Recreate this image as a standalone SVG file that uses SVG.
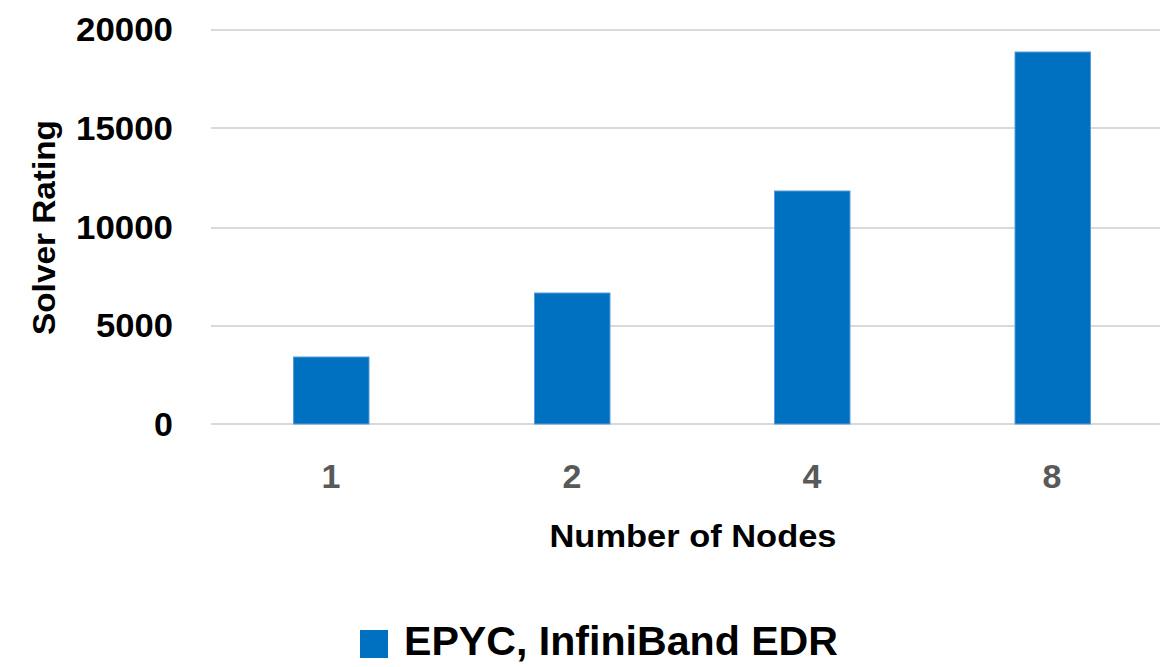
<svg xmlns="http://www.w3.org/2000/svg" width="1163" height="667" viewBox="0 0 1163 667">
<style>
.t{font-family:"Liberation Sans",Arial,sans-serif;font-weight:bold;}
.yl{font-size:34px;fill:#000;text-anchor:end;}
.xl{font-size:34px;fill:#595959;text-anchor:middle;}
.grid{stroke:#D9D9D9;stroke-width:2;}
.bar{fill:#0070C0;stroke:#5B9BD5;stroke-width:1;}
</style>
<rect width="1163" height="667" fill="#fff"/>
<g id="grid">
<line class="grid" x1="211" y1="30" x2="1160" y2="30"/>
<line class="grid" x1="211" y1="128" x2="1160" y2="128"/>
<line class="grid" x1="211" y1="228" x2="1160" y2="228"/>
<line class="grid" x1="211" y1="326" x2="1160" y2="326"/>
<line class="grid" x1="211" y1="424" x2="1160" y2="424"/>
</g>
<g id="yticks" class="t yl">
<text x="173" y="41" textLength="97" lengthAdjust="spacingAndGlyphs">20000</text>
<text x="173" y="140" textLength="97" lengthAdjust="spacingAndGlyphs">15000</text>
<text x="173" y="239" textLength="97" lengthAdjust="spacingAndGlyphs">10000</text>
<text x="173" y="337" textLength="77" lengthAdjust="spacingAndGlyphs">5000</text>
<text x="173" y="436">0</text>
</g>
<g id="bars">
<rect id="bar1" class="bar" x="293.5" y="357" width="75.5" height="67"/>
<rect id="bar2" class="bar" x="534.5" y="293" width="75.5" height="131"/>
<rect id="bar4" class="bar" x="774.5" y="191" width="75.5" height="233"/>
<rect id="bar8" class="bar" x="1015" y="52" width="75.5" height="372"/>
</g>
<g id="xticks" class="t xl">
<text x="331" y="488">1</text>
<text x="572" y="488">2</text>
<text x="812" y="488">4</text>
<text x="1052" y="488">8</text>
</g>
<text id="xtitle" class="t" x="693" y="547" text-anchor="middle" font-size="31" textLength="287" lengthAdjust="spacingAndGlyphs">Number of Nodes</text>
<text id="ytitle" class="t" transform="translate(55,227.5) rotate(-90)" x="0" y="0" text-anchor="middle" font-size="31" textLength="215" lengthAdjust="spacingAndGlyphs">Solver Rating</text>
<g id="legend">
<rect x="360" y="630" width="28" height="28" fill="#0070C0"/>
<text class="t" x="404" y="655" font-size="41" textLength="434" lengthAdjust="spacingAndGlyphs">EPYC, InfiniBand EDR</text>
</g>
</svg>
